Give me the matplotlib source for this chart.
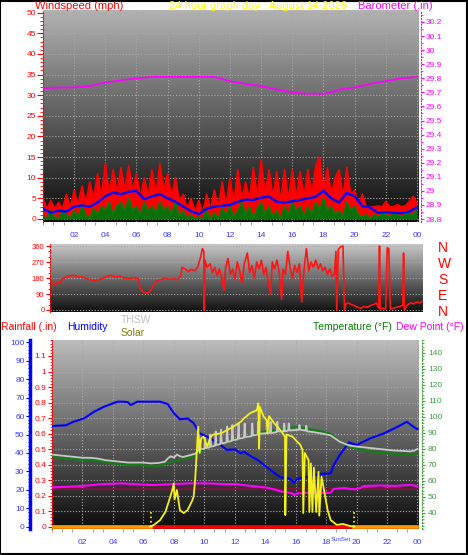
import numpy as np
import matplotlib
matplotlib.use('Agg')
import matplotlib.pyplot as plt
import matplotlib.transforms as mtransforms
from matplotlib.ticker import MultipleLocator, FormatStrFormatter
from matplotlib.patches import Rectangle

plt.rcParams['font.family'] = ['Liberation Sans', 'DejaVu Sans']

W, H = 468, 555

# ---------------- data ----------------
# wind, sampled every 15 minutes
wind_hours = np.linspace(0, 24, 97)
wind_gust = [5, 2.5, 4.5, 2.5,  4, 2.5, 6, 3,  7, 3.5, 8, 4,  9, 5, 11, 5.5,
             13.5, 6, 12, 6.5,  12.5, 7, 13, 7,  11, 5.5, 10, 5.5,  12, 6, 13.5, 7,
             11, 5.5, 10, 4.5,  6, 2.5, 5, 2,  4.5, 1.5, 6, 2.5,  7, 3, 9, 3.5,
             10, 4, 12, 5,  9, 5, 12.5, 5.5,  14.5, 6, 12, 5.5,  11.5, 4.5, 12, 5,
             12, 5.5, 11.5, 5.5,  12, 6, 13, 15,  7, 12.5, 6, 10,  12, 5.5, 12.5, 6,
             7, 3.5, 6, 3,  3, 3, 3.2, 3,  4.2, 3, 3, 3.5,  3, 3.2, 4.2, 5.5,  4]
wind_speed = [1, 0, 2, 0.5,  0, 2, 1, 0,  2, 0.5, 3, 1,  0, 2.5, 1, 3,
              2, 4, 1, 3,  4, 2, 5, 2,  3, 1, 4, 2,  3, 1.5, 4, 2,
              3, 1, 4, 0.5,  2, 0, 1, 0,  0.5, 0, 2, 0,  1.5, 0, 2.5, 1,
              3, 0.5, 2, 4,  1, 3, 0, 2.5,  4, 1, 3, 0.5,  2, 0, 3, 1,
              4, 2, 3, 0.5,  3, 1, 4, 2,  5, 2, 3, 1,  2, 0.5, 4, 2,
              3, 1, 0.5, 1,  0, 1, 0.5, 1.5,  1, 0.5, 1.5, 1,  0.5, 1, 1.5, 1,  2.5]
# average wind, every 30 minutes
avg_hours = np.linspace(0, 24, 49)
wind_avg = [2.5, 1.5, 2, 1.8, 3, 3.3, 3, 4, 5.5, 6.4, 6, 6.6, 6.8, 4.8, 5.5, 6,
            5, 4.2, 3, 1.9, 1.2, 2.5, 3, 3.2, 3.4, 4.2, 4.7, 4.6, 5.2, 5.4, 4.2, 4,
            4.3, 4.6, 5, 5.4, 6.8, 5, 4, 6.3, 5.5, 3.1, 2.8, 1.5, 1.7, 1.5, 1.4, 1.8, 2.8]

baro_hours = [0, 1, 2, 3, 4, 5, 6, 7, 8, 9, 10, 11, 12, 13, 14, 15, 16, 17,
              18, 18.5, 19, 20, 21, 22, 23, 24]
baro_in = [29.73, 29.735, 29.735, 29.745, 29.77, 29.785, 29.80, 29.81, 29.81,
           29.81, 29.81, 29.81, 29.78, 29.76, 29.745, 29.72, 29.70, 29.69,
           29.69, 29.70, 29.72, 29.735, 29.76, 29.78, 29.80, 29.81]

dir_hours = [0.0, 0.15, 0.3, 0.45, 0.6, 0.8, 1.0, 1.2, 1.5, 1.8, 2.1, 2.4, 2.8, 3.1,
             3.4, 3.7, 3.9, 4.2, 4.5, 4.8, 5.1, 5.4, 5.7, 5.8, 6.0, 6.2, 6.4, 6.6,
             6.8, 7.1, 7.4, 7.7, 8.0, 8.2, 8.4, 8.5, 8.7, 8.9, 9.1, 9.3, 9.5, 9.7,
             9.8, 9.9, 9.93, 9.97, 10.1, 10.3, 10.45, 10.6, 10.75, 10.9, 11.05, 11.2,
             11.3, 11.45, 11.6, 11.75, 11.9, 12.05, 12.2, 12.35, 12.5, 12.7, 12.85,
             13.0, 13.15, 13.3, 13.45, 13.6, 13.75, 13.9, 14.05, 14.2, 14.3, 14.45,
             14.6, 14.75, 14.9, 15.0, 15.15, 15.3, 15.45, 15.6, 15.75, 15.9, 16.05,
             16.2, 16.35, 16.5, 16.65, 16.8, 16.95, 17.1, 17.25, 17.4, 17.55, 17.7,
             17.85, 18.0, 18.15, 18.3, 18.4, 18.45, 18.55, 18.7, 18.85, 18.95, 19.05,
             19.2, 19.4, 19.6, 19.8, 20.0, 20.2, 20.4, 20.6, 20.8, 21.0, 21.15, 21.2,
             21.25, 21.4, 21.6, 21.7, 21.8, 21.9, 22.1, 22.3, 22.5, 22.7, 22.75, 22.8,
             23.0, 23.2, 23.4, 23.6, 23.8, 24.0]
dir_deg = [165, 150, 140, 155, 148, 175, 185, 190, 195, 188, 185, 175, 165, 170,
           178, 190, 195, 185, 190, 180, 178, 182, 175, 120, 100, 95, 100, 130,
           160, 170, 178, 172, 175, 170, 190, 240, 230, 215, 230, 220, 240, 300,
           345, 330, 0, 280, 240, 260, 210, 240, 195, 230, 180, 110,
           240, 290, 200, 230, 170, 270, 220, 150, 260, 320, 210,
           250, 180, 270, 230, 280, 200, 240, 150, 90, 270, 230,
           280, 210, 60, 230, 200, 330, 240, 180, 250, 210, 260,
           45, 230, 345, 220, 270, 240, 280, 230, 260, 220, 240,
           200, 230, 190, 200, 330, 0, 340, 355, 360, 0, 35,
           40, 30, 25, 15, 10, 20, 15, 25, 30, 40, 10, 360,
           5, 10, 5, 350, 345, 5, 10, 15, 20, 25, 320, 0,
           30, 40, 35, 45, 40, 50]

rain_hours = [0, 24]
rain_in = [0.0, 0.0]
sunrise = 6.47
sunset = 19.86

hum_hours = [0, 0.9, 1.4, 2.1, 2.75, 3.4, 4.0, 4.3, 4.7, 5.0, 5.15, 5.3, 5.6, 6.25,
             7.1, 7.6, 8.0, 8.4, 8.9, 9.3, 9.7, 10.2, 10.9, 11.5, 12.0, 12.4, 12.6,
             13.0, 13.5, 14.35, 15.0, 15.65, 15.9, 16.1, 16.8, 17.6, 18.3, 18.5, 18.9,
             19.5, 20.0, 20.9, 21.8, 22.7, 23.3, 23.6, 23.9, 24.0]
humidity = [54.6, 55, 56.9, 58.7, 62.3, 65, 66.9, 67.8, 67.8, 67.5, 66, 66.5, 67.8,
            67.8, 67.8, 66.5, 61.6, 58.2, 58.7, 56.2, 50.6, 48.8, 45.3, 41.6, 42,
            39.8, 40.7, 38.5, 36.2, 30.7, 26.8, 25.9, 23.9, 25.9, 27.1, 28.6, 28.9,
            33.4, 38.9, 45.7, 44.3, 47.9, 50.6, 54.2, 56.9, 55, 53.3, 53]

temp_hours = [0, 0.5, 1.0, 1.5, 2.0, 2.5, 3.0, 3.5, 4.0, 4.5, 5.0, 5.5, 6.0, 6.5, 7.0,
              7.4, 7.8, 8.2, 8.6, 9.0, 9.4, 9.75, 10.2, 10.6, 11.0, 11.5, 12.0, 12.4,
              12.8, 13.4, 13.9, 14.5, 15.0, 15.5, 16.1, 16.6, 17.2, 17.8, 18.3, 18.6,
              18.9, 19.2, 19.6, 20.0, 20.5, 21.0, 21.6, 22.2, 22.7, 23.2, 23.8, 24.0]
temp_f = [75, 74.5, 74, 73.5, 73.2, 73, 72.5, 71.5, 71, 70.5, 70.2, 70, 69.8, 69.4,
          69.5, 70.5, 72, 73, 73.5, 74.5, 76, 78.3, 80.5, 82.5, 83.5, 84.6, 85.5, 86.5,
          88, 89.5, 90.8, 91.5, 92.3, 93, 94, 93, 91.9, 90.8, 89.4, 87, 84.6, 83, 81.4,
          80.2, 79.4, 78.5, 77.7, 77.2, 76.9, 76.5, 76.3, 77.5]

thsw_hours = [0, 0.5, 1.0, 1.5, 2.0, 2.5, 3.0, 3.5, 4.0, 4.5, 5.0, 5.5, 6.0, 6.5, 7.0,
              7.4, 7.6, 7.8, 8.0, 8.2, 8.4, 8.6, 9.0, 9.4, 9.6, 9.7, 9.75, 10.0, 10.05,
              10.1, 10.35, 10.4, 10.45, 10.7, 10.75, 10.8, 11.05, 11.1, 11.15, 11.45,
              11.5, 11.55, 11.8, 11.85, 11.9, 12.2, 12.25, 12.3, 12.6, 12.65, 12.7, 13.1,
              13.15, 13.2, 13.5, 13.55, 13.6, 14.3, 14.35, 14.4, 14.75, 14.8, 14.85,
              15.2, 15.25, 15.3, 15.5, 15.55, 15.6, 16.2, 16.25, 16.3, 16.65, 16.7,
              16.75, 17.2, 17.8, 18.3, 18.6, 18.9, 19.3, 19.6, 20, 20.5, 21, 21.5, 22,
              22.5, 23, 23.5, 23.8, 24]
thsw_f = [76.5, 76, 75.5, 75, 74.5, 74.5, 74, 73, 72.5, 72, 71.5, 71.5, 71.5, 71, 71.3,
          72, 74, 75.5, 74.5, 76.5, 75.5, 75, 76, 77, 79, 86, 80, 80, 87,
          80.5, 81, 89, 81.5, 82, 91, 82.5, 83, 92, 83.5, 84,
          94, 84.5, 85, 95, 85.5, 86, 96, 86.5, 87, 96, 87.5, 88,
          96, 88.5, 89, 97, 89.5, 90, 97, 90, 90.5, 97, 91,
          91, 96, 91, 91.5, 96, 91.5, 92, 95, 92, 91.5, 94.5,
          91, 90.5, 89.5, 88.5, 86.5, 84.5, 83, 82, 81.5, 81, 80.5, 80, 79.5,
          79, 78.8, 78.5, 79, 80]

dew_hours = [0, 0.5, 1.0, 1.5, 2.0, 2.5, 3.0, 3.5, 4.0, 4.5, 5.0, 5.5, 6.0, 6.5, 7.0,
             7.5, 8.0, 8.5, 9.0, 9.5, 10.0, 10.5, 11.0, 11.5, 12.0, 12.5, 13.0, 13.5,
             14.0, 14.5, 15.0, 15.5, 15.8, 15.9, 16.1, 16.5, 17.0, 17.5, 18.0, 18.3,
             18.5, 18.9, 19.2, 19.6, 19.9, 20.2, 20.5, 21.0, 21.5, 22.0, 22.5, 23.0,
             23.5, 23.8, 24.0]
dew_f = [56.1, 56.2, 56.4, 56.6, 57, 57.3, 57.8, 58.1, 58.3, 58.5, 58.3, 58, 57.7,
         57.5, 57.6, 57.8, 58.1, 58.3, 58.5, 58.5, 58.6, 58.4, 58.2, 58.1, 58.1, 57.5,
         57, 56.5, 56, 55, 53.5, 52.8, 52.2, 51.2, 52.2, 52.5, 52.7, 52.7, 52.5, 52.6,
         55, 55.4, 55.6, 55, 54.8, 55.5, 56.9, 57, 57.2, 57, 56.9, 57.2, 57.5, 57.2, 56.5]
dew_ref_hours = [0, 24]
dew_ref_f = [54.8, 54.8]

solar_hours = [6.45, 6.7, 7.1, 7.45, 7.7, 7.9, 8.0, 8.05, 8.2, 8.4, 8.65, 8.9, 9.2, 9.3,
               9.4, 9.5, 9.6, 9.7, 9.8, 9.95, 10.2, 10.4, 10.6, 11.1, 11.5, 11.9, 12.4,
               12.6, 13.0, 13.45, 13.55, 13.6, 13.65, 13.9, 14.1, 14.15, 14.25, 14.6,
               15.0, 15.3, 15.32, 15.4, 15.8, 16.1, 16.3, 16.45, 16.5, 16.6, 16.85,
               16.9, 17.0, 17.1, 17.2, 17.35, 17.5, 17.55, 17.7, 17.9, 18.1, 18.3,
               18.7, 19.1, 19.6, 19.86]
solar_wm2 = [0, 10, 36, 81, 145, 199, 235, 148, 199, 90, 74, 90, 140, 163,
             253, 398, 542, 400, 480, 488, 434, 488, 500, 506, 524, 542, 569,
             587, 615, 632, 669, 425, 650, 596, 578, 506, 600, 560,
             524, 488, 63, 500, 488, 461, 445, 416, 74, 400, 361,
             80, 343, 80, 320, 80, 298, 60, 271, 181, 90, 36,
             10, 15, 3, 0]

hour_ticks = [2, 4, 6, 8, 10, 12, 14, 16, 18, 20, 22, 24]
hour_labels = ['02', '04', '06', '08', '10', '12', '14', '16', '18', '20', '22', '00']

# ---------------- helpers ----------------
def box(l, t, r, b):
    return [l / W, 1 - b / H, (r - l) / W, (b - t) / H]


def shade(ax, top, bot):
    g = np.linspace(top, bot, 256).reshape(-1, 1)
    ax.imshow(g, cmap='gray', vmin=0, vmax=1, extent=[0, 1, 0, 1],
              transform=ax.transAxes, aspect='auto', zorder=0,
              interpolation='bilinear')


def bare(ax):
    for s in ax.spines.values():
        s.set_visible(False)


RED = '#ff0000'
MAG = '#ff00ff'
BLUE = '#0000ff'
TICK_BLUE = '#3a3aff'
GRID = '#a8a8a8'

fig = plt.figure(figsize=(W / 100, H / 100), dpi=100)
fig.patch.set_facecolor('white')

# ---------------- panel 1: wind + barometer ----------------
ax1 = fig.add_axes(box(43, 10, 419, 222))
shade(ax1, 0.70, 0.04)
ax1.fill_between(wind_hours, wind_speed, wind_gust, color=RED, lw=0, zorder=3)
ax1.plot(wind_hours, wind_gust, color=RED, lw=1.1, zorder=3)
ax1.fill_between(wind_hours, 0, wind_speed, color='#0a6e0a', lw=0, zorder=4)
ax1.plot(wind_hours, wind_speed, color='#0a7a0a', lw=1.3, zorder=4)
ax1.plot(avg_hours, wind_avg, color=BLUE, lw=1.7, zorder=5)
ax1.set_xlim(0, 24.13)
ax1.set_ylim(-0.73, 50.65)
bare(ax1)
ax1.spines['left'].set_visible(True)
ax1.spines['left'].set_color(RED)
ax1.spines['left'].set_linestyle(':')
ax1.yaxis.set_major_locator(MultipleLocator(5))
ax1.yaxis.set_minor_locator(MultipleLocator(1))
ax1.tick_params(axis='y', which='both', colors=RED, labelsize=6, pad=1)
ax1.tick_params(axis='y', which='major', length=4)
ax1.tick_params(axis='y', which='minor', length=2)
ax1.set_xticks(hour_ticks)
ax1.set_xticklabels(hour_labels)
ax1.xaxis.set_minor_locator(MultipleLocator(2 / 3))
ax1.tick_params(axis='x', which='major', length=0, labelsize=6, labelcolor=TICK_BLUE, pad=7)
ax1.tick_params(axis='x', which='minor', length=2, color='#909090')
ax1.set_axisbelow(True)
ax1.grid(True, which='major', color=GRID, ls=':', lw=0.8)

axb = ax1.twinx()
axb.plot(baro_hours, baro_in, color=MAG, lw=1.3)
axb.set_xlim(0, 24.13)
axb.set_ylim(28.779, 30.285)
bare(axb)
axb.spines['right'].set_visible(True)
axb.spines['right'].set_color(MAG)
axb.spines['right'].set_linestyle(':')
axb.spines['right'].set_position(('outward', 1.5))
axb.set_yticks(np.round(np.arange(28.8, 30.25, 0.1), 1))
axb.yaxis.set_major_formatter(FormatStrFormatter('%g'))
axb.yaxis.set_minor_locator(MultipleLocator(0.05))
axb.tick_params(axis='y', which='both', colors=MAG, labelsize=6, pad=1)
axb.tick_params(axis='y', which='major', length=2)
axb.tick_params(axis='y', which='minor', length=1.5)

fig.text(35 / W, 1 - 6 / H, 'Windspeed (mph)', color=RED, fontsize=8, va='center', ha='left')
fig.text(258 / W, 1 - 6 / H, '24 hour graph day : August 14 2026', color='#ffff00',
         fontsize=8, va='center', ha='center')
fig.text(433 / W, 1 - 6 / H, 'Barometer (.in)', color=MAG, fontsize=8, va='center', ha='right')

# ---------------- panel 2: wind direction ----------------
ax2 = fig.add_axes(box(50, 244, 423, 312))
shade(ax2, 0.78, 0.06)
ax2.plot(dir_hours, dir_deg, color='#ff1414', lw=1.2, zorder=3)
ax2.set_xlim(0, 24)
ax2.set_ylim(-11.25, 371.25)
bare(ax2)
ax2.spines['left'].set_visible(True)
ax2.spines['left'].set_color(RED)
ax2.spines['left'].set_linestyle(':')
ax2.set_yticks([0, 90, 180, 270, 360])
ax2.yaxis.set_minor_locator(MultipleLocator(30))
ax2.tick_params(axis='y', which='both', colors=RED, labelsize=5.5, pad=1)
ax2.tick_params(axis='y', which='major', length=3)
ax2.tick_params(axis='y', which='minor', length=1.5)
ax2.set_xticks([])
ax2.set_axisbelow(True)
ax2.grid(True, axis='y', color=GRID, ls=':', lw=0.8)

axc = ax2.twinx()
axc.set_ylim(-11.25, 371.25)
bare(axc)
axc.set_yticks([0, 90, 180, 270, 360])
axc.set_yticklabels(['N', 'E', 'S', 'W', 'N'])
axc.tick_params(axis='y', length=0, pad=11, labelsize=10, labelcolor=RED)

# ---------------- panel 3: rain / humidity / temperature / solar ----------------
ax3 = fig.add_axes(box(52, 340, 419, 529))
shade(ax3, 0.74, 0.05)
ax3.plot(rain_hours, rain_in, color=RED, lw=2.6, zorder=3)
ax3.plot([rain_hours[0], sunrise], [rain_in[0], rain_in[0]], color='#ff9900', lw=2.6, zorder=4)
ax3.plot([sunset, rain_hours[-1]], [rain_in[-1], rain_in[-1]], color='#ff9900', lw=2.6, zorder=4)
ax3.vlines([sunrise, sunset], 0, 0.1, colors='#ffff00', linestyles=':', lw=1.2, zorder=4)
ax3.set_xlim(0, 24.1)
ax3.set_ylim(-0.0148, 1.203)
bare(ax3)
ax3.spines['left'].set_visible(True)
ax3.spines['left'].set_color(RED)
ax3.spines['left'].set_linestyle(':')
ax3.set_yticks(np.round(np.arange(0, 1.15, 0.1), 1))
ax3.yaxis.set_major_formatter(FormatStrFormatter('%g'))
ax3.yaxis.set_minor_locator(MultipleLocator(0.02))
ax3.tick_params(axis='y', which='both', colors=RED, labelsize=6, pad=1)
ax3.tick_params(axis='y', which='major', length=3)
ax3.tick_params(axis='y', which='minor', length=1.5)
ax3.set_xticks(hour_ticks)
ax3.set_xticklabels(hour_labels)
ax3.xaxis.set_minor_locator(MultipleLocator(2 / 3))
ax3.tick_params(axis='x', which='major', length=0, labelsize=6, labelcolor=TICK_BLUE, pad=7)
ax3.tick_params(axis='x', which='minor', length=2, color='#909090')
ax3.set_axisbelow(True)
ax3.grid(True, which='major', color=GRID, ls=':', lw=0.8)
# sunset label, squeezed between the "18" and "20" tick labels
trans = mtransforms.blended_transform_factory(ax3.transData, ax3.transAxes)
ax3.text(sunset - 0.92, -0.058, 'SunSet', transform=trans, color=TICK_BLUE, fontsize=4.5,
         ha='center', va='center')

axh = ax3.twinx()
axh.plot(hum_hours, humidity, color=BLUE, lw=1.5)
axh.set_xlim(0, 24.1)
axh.set_ylim(-1.25, 101.25)
bare(axh)
axh.yaxis.tick_left()
axh.spines['left'].set_visible(True)
axh.spines['left'].set_position(('outward', 15.8))
axh.spines['left'].set_color(BLUE)
axh.spines['left'].set_linewidth(2.5)
axh.yaxis.set_major_locator(MultipleLocator(10))
axh.yaxis.set_minor_locator(MultipleLocator(2))
axh.tick_params(axis='y', which='both', colors=BLUE, labelsize=6, pad=1,
                labelcolor=TICK_BLUE)
axh.tick_params(axis='y', which='major', length=3)
axh.tick_params(axis='y', which='minor', length=1.5)

axt = ax3.twinx()
axt.plot(temp_hours, temp_f, color='#108010', lw=1.5)
axt.plot(thsw_hours, thsw_f, color='#c8c8c8', lw=1.3)
axt.plot(dew_ref_hours, dew_ref_f, color='#8a1040', lw=1.6, alpha=0.8)
axt.plot(dew_hours, dew_f, color=MAG, lw=1.5)
axt.set_xlim(0, 24.1)
axt.set_ylim(30, 148.1)
bare(axt)
axt.spines['right'].set_visible(True)
axt.spines['right'].set_color('#40a040')
axt.spines['right'].set_linestyle(':')
axt.spines['right'].set_position(('outward', 2))
axt.set_yticks(np.arange(40, 141, 10))
axt.yaxis.set_minor_locator(MultipleLocator(2))
axt.tick_params(axis='y', which='both', colors='#40a040', labelsize=6, pad=2)
axt.tick_params(axis='y', which='major', length=2.5)
axt.tick_params(axis='y', which='minor', length=1.5)

axs = ax3.twinx()
axs.plot(solar_hours, solar_wm2, color='#f4f020', lw=1.3)
axs.set_xlim(0, 24.1)
axs.set_ylim(-12.5, 1012.5)
axs.axis('off')

hy = 1 - 327 / H
fig.text(1 / W, hy, 'Rainfall (.in)', color=RED, fontsize=7.5, va='center', ha='left')
fig.text(67 / W, hy, 'Humidity', color=BLUE, fontsize=7.5, va='center', ha='left')
fig.text(121 / W, 1 - 320 / H, 'THSW', color='#c0c0c0', fontsize=7.5, va='center', ha='left')
fig.text(121 / W, 1 - 333 / H, 'Solar', color='#808000', fontsize=7.5, va='center', ha='left')
fig.text(313 / W, hy, 'Temperature (°F)', color='#008000', fontsize=7.5, va='center', ha='left')
fig.text(464 / W, hy, 'Dew Point (°F)', color=MAG, fontsize=7.5, va='center', ha='right')

fig.add_artist(Rectangle((0.001, 0.002), 0.997, 0.996, transform=fig.transFigure,
                         fill=False, ec='black', lw=1.5))

fig.savefig('out.png', dpi=100)
